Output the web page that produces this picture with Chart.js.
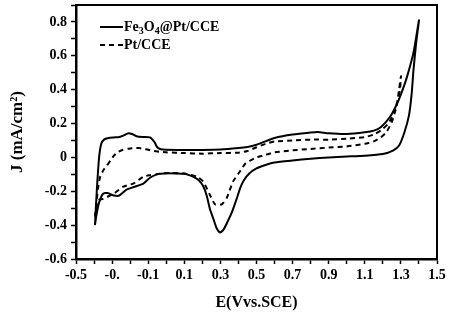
<!DOCTYPE html>
<html>
<head>
<meta charset="utf-8">
<script src="https://cdn.jsdelivr.net/npm/chart.js@4/dist/chart.umd.min.js"></script>
<style>
  html, body { margin: 0; padding: 0; background: #fff; }
  #wrap { width: 449px; height: 316px; }
</style>
</head>
<body>
<div id="wrap"><canvas id="grafico"></canvas></div>
<script>
// Fe3O4@Pt/CCE - voltammogram loop (forward then reverse scan)
const feE = [-0.395, -0.385, -0.372, -0.36, -0.345, -0.32, -0.29, -0.26, -0.235, -0.21, -0.19, -0.165, -0.13, -0.09, -0.065, -0.05, -0.03, 0.0, 0.1, 0.2, 0.3, 0.4, 0.45, 0.5, 0.55, 0.6, 0.7, 0.8, 0.84, 0.9, 1.0, 1.1, 1.15, 1.19, 1.24, 1.28, 1.31, 1.335, 1.37, 1.40,
  1.385, 1.37, 1.36, 1.345, 1.32, 1.29, 1.256, 1.2, 1.1, 1.0, 0.9, 0.8, 0.7, 0.6, 0.55, 0.5, 0.46, 0.43, 0.41, 0.39, 0.365, 0.335, 0.315, 0.298, 0.28, 0.26, 0.242, 0.224, 0.205, 0.18, 0.15, 0.1, 0.0, -0.03, -0.053, -0.09, -0.127, -0.18, -0.22, -0.26, -0.29, -0.325, -0.35, -0.37, -0.385, -0.395];
const feJ = [-0.40, -0.20, 0.0, 0.08, 0.105, 0.115, 0.118, 0.12, 0.13, 0.143, 0.138, 0.125, 0.12, 0.118, 0.09, 0.06, 0.048, 0.045, 0.044, 0.044, 0.046, 0.055, 0.062, 0.075, 0.095, 0.115, 0.135, 0.147, 0.15, 0.142, 0.138, 0.148, 0.158, 0.18, 0.24, 0.32, 0.40, 0.48, 0.62, 0.81,
  0.68, 0.52, 0.38, 0.25, 0.15, 0.07, 0.04, 0.02, 0.01, 0.005, 0.0, -0.008, -0.018, -0.03, -0.045, -0.065, -0.095, -0.135, -0.18, -0.245, -0.32, -0.39, -0.43, -0.443, -0.42, -0.36, -0.305, -0.225, -0.17, -0.135, -0.115, -0.097, -0.093, -0.096, -0.10, -0.12, -0.155, -0.175, -0.19, -0.225, -0.225, -0.21, -0.215, -0.26, -0.33, -0.40];

// Pt/CCE
const ptE = [-0.395, -0.385, -0.375, -0.365, -0.345, -0.33, -0.31, -0.29, -0.27, -0.24, -0.2, -0.15, -0.1, -0.05, 0.0, 0.1, 0.2, 0.3, 0.4, 0.45, 0.5, 0.55, 0.6, 0.7, 0.8, 0.9, 1.0, 1.1, 1.15, 1.19, 1.23, 1.26, 1.28, 1.295, 1.30,
  1.29, 1.275, 1.25, 1.22, 1.19, 1.15, 1.1, 1.0, 0.9, 0.8, 0.7, 0.6, 0.55, 0.5, 0.44, 0.41, 0.37, 0.335, 0.31, 0.298, 0.27, 0.242, 0.205, 0.17, 0.1, 0.0, -0.053, -0.09, -0.127, -0.18, -0.238, -0.29, -0.35, -0.376, -0.395];
const ptJ = [-0.35, -0.25, -0.16, -0.11, -0.07, -0.05, -0.02, 0.01, 0.03, 0.045, 0.053, 0.055, 0.045, 0.035, 0.03, 0.026, 0.022, 0.026, 0.028, 0.038, 0.06, 0.08, 0.094, 0.10, 0.105, 0.105, 0.11, 0.12, 0.135, 0.16, 0.2, 0.26, 0.33, 0.40, 0.48,
  0.40, 0.30, 0.21, 0.15, 0.12, 0.095, 0.08, 0.065, 0.058, 0.05, 0.042, 0.03, 0.015, 0.0, -0.035, -0.08, -0.143, -0.24, -0.275, -0.28, -0.277, -0.222, -0.143, -0.114, -0.095, -0.093, -0.10, -0.105, -0.114, -0.153, -0.173, -0.213, -0.245, -0.253, -0.35];

const nomes = ['Fe3O4@Pt/CCE', 'Pt/CCE'];
const xTickLabels = ['-0.5', '-0.', '-0.1', '0.1', '0.3', '0.5', '0.7', '0.9', '1.1', '1.3', '1.5'];
const yTickLabels = ['-0.6', '-0.4', '-0.2', '0', '0.2', '0.4', '0.6', '0.8'];

const fonte = 'Liberation Serif';
const traco = [5, 4];

function pontos(xs, ys) {
    return xs.map((x, i) => ({ x: x, y: ys[i] }));
}

function semPadding(s) {
    s.paddingTop = 0;
    s.paddingBottom = 0;
    s.paddingLeft = 0;
    s.paddingRight = 0;
}

// moldura em volta da area do grafico
const moldura = {
    id: 'moldura',
    afterDatasetsDraw(chart) {
        const a = chart.chartArea;
        const c = chart.ctx;
        c.save();
        c.strokeStyle = '#000';
        c.lineWidth = 2;
        c.strokeRect(a.left, a.top, a.right - a.left, a.bottom - a.top);
        c.restore();
    }
};

// texto com digitos em subscrito (Fe3O4)
function textoSub(c, txt, x, y) {
    txt.split(/(\d)/).forEach(p => {
        if (!p) return;
        if (/\d/.test(p)) {
            c.font = 'bold 10px "' + fonte + '"';
            c.fillText(p, x, y + 4);
        } else {
            c.font = 'bold 14px "' + fonte + '"';
            c.fillText(p, x, y);
        }
        x += c.measureText(p).width;
    });
}

const legenda = {
    id: 'legenda',
    afterDraw(chart) {
        const a = chart.chartArea;
        const c = chart.ctx;
        c.save();
        c.fillStyle = '#000';
        c.strokeStyle = '#000';
        c.lineWidth = 2;
        c.textBaseline = 'middle';
        chart.data.datasets.forEach((ds, i) => {
            const y = a.top + 22 + i * 18;
            const x0 = a.left + 24;
            c.setLineDash(ds.borderDash || []);
            c.beginPath();
            c.moveTo(x0, y);
            c.lineTo(x0 + 23, y);
            c.stroke();
            c.setLineDash([]);
            textoSub(c, ds.label, x0 + 24, y);
        });
        c.restore();
    }
};

new Chart(document.getElementById('grafico'), {
    type: 'scatter',
    data: {
        datasets: [{
            label: nomes[0],
            data: pontos(feE, feJ),
            showLine: true,
            borderColor: '#000',
            borderWidth: 2,
            pointRadius: 0,
            tension: 0.2
        }, {
            label: nomes[1],
            data: pontos(ptE, ptJ),
            showLine: true,
            borderColor: '#000',
            borderWidth: 2,
            borderDash: traco,
            pointRadius: 0,
            tension: 0.2
        }]
    },
    options: {
        responsive: true,
        maintainAspectRatio: false,
        animation: false,
        layout: { padding: { top: 5, right: 12, left: 0, bottom: 0 } },
        plugins: {
            legend: { display: false },
            tooltip: { enabled: false }
        },
        scales: {
            x: {
                type: 'linear',
                min: -0.5,
                max: 1.5,
                afterFit: s => { s.height = 57; semPadding(s); },
                ticks: {
                    stepSize: 0.1,
                    autoSkip: false,
                    maxRotation: 0,
                    padding: 3,
                    color: '#000',
                    font: { family: fonte, size: 14, weight: 'bold' },
                    callback: (v, i) => i % 2 === 0 ? xTickLabels[i / 2] : ''
                },
                grid: { drawOnChartArea: false, tickLength: 5, tickColor: '#000', tickWidth: 1.5 },
                border: { color: '#000', width: 2.5 },
                title: {
                    display: true,
                    text: 'E(Vvs.SCE)',
                    color: '#000',
                    padding: { top: 0, bottom: 4 },
                    font: { family: fonte, size: 16, weight: 'bold' }
                }
            },
            y: {
                min: -0.6,
                max: 0.9,
                afterFit: s => { s.width = 76; semPadding(s); },
                ticks: {
                    stepSize: 0.1,
                    autoSkip: false,
                    padding: 4,
                    color: '#000',
                    font: { family: fonte, size: 14, weight: 'bold' },
                    callback: (v, i) => i % 2 === 0 ? yTickLabels[i / 2] : ''
                },
                grid: { drawOnChartArea: false, tickLength: 5, tickColor: '#000', tickWidth: 1.5 },
                border: { color: '#000', width: 2.5 },
                title: {
                    display: true,
                    text: 'J (mA/cm²)',
                    color: '#000',
                    padding: { top: 7, bottom: 0 },
                    font: { family: fonte, size: 17, weight: 'bold' }
                }
            }
        }
    },
    plugins: [moldura, legenda]
});
</script>
</body>
</html>
